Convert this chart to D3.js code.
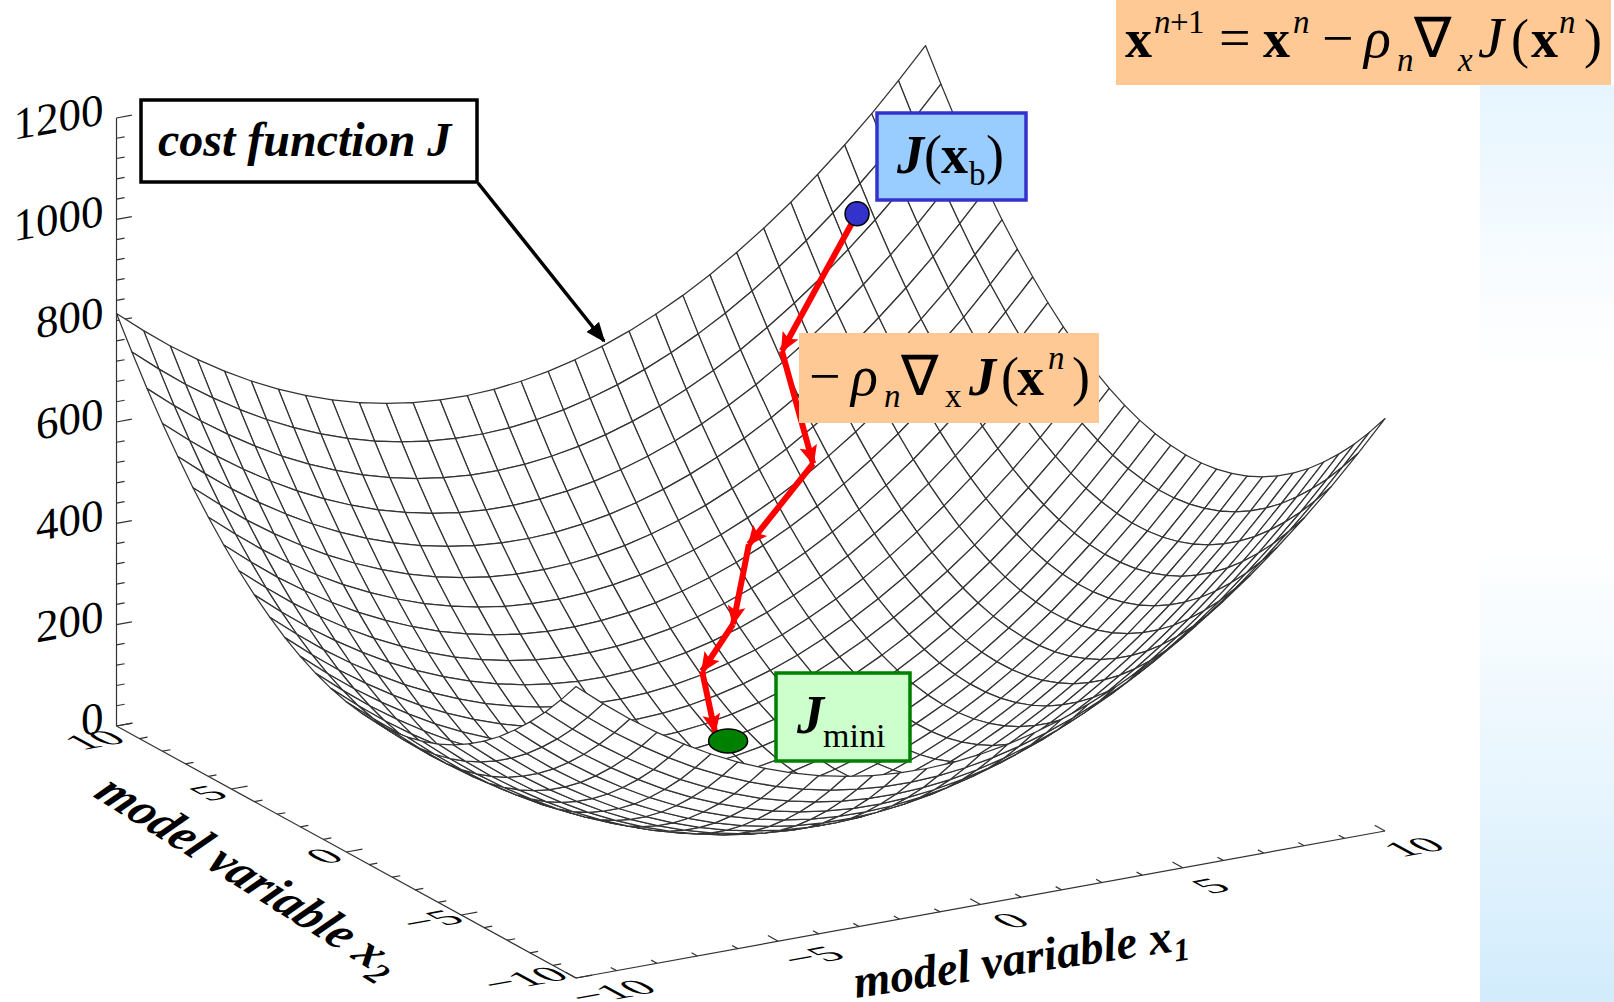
<!DOCTYPE html>
<html>
<head>
<meta charset="utf-8">
<script src="https://cdnjs.cloudflare.com/ajax/libs/d3/7.8.5/d3.min.js"></script>
<style>
  html, body { margin: 0; padding: 0; background: #fff; }
  svg { display: block; }
  text { font-family: "Liberation Serif", serif; fill: #000; }
</style>
</head>
<body>
<svg id="chart" width="1614" height="1002"></svg>
<script>
// model variable grid, 31 mesh lines each way
const x1Grid = [-10, -9.33, -8.67, -8, -7.33, -6.67, -6, -5.33, -4.67, -4, -3.33, -2.67, -2, -1.33, -0.67, 0,
  0.67, 1.33, 2, 2.67, 3.33, 4, 4.67, 5.33, 6, 6.67, 7.33, 8, 8.67, 9.33, 10];
const x2Grid = x1Grid.slice();

// share of the cost J coming from each variable, read along the edges of the surface
const costX1 = [287.6, 244.2, 204.4, 168.2, 135.4, 106.2, 80.6, 58.5, 39.9, 24.9, 13.4, 5.4, 1.0, 0.1, 2.8, 9.0,
  18.7, 32.0, 48.8, 69.1, 93.0, 120.4, 151.4, 185.8, 223.9, 265.4, 310.6, 359.2, 411.4, 467.1, 526.4];
const costX2 = costX1.slice();

const zTicks = [0, 40, 80, 120, 160, 200, 240, 280, 320, 360, 400, 440, 480, 520, 560, 600, 640, 680, 720, 760,
  800, 840, 880, 920, 960, 1000, 1040, 1080, 1120, 1160, 1200];
const zLabels = [0, 200, 400, 600, 800, 1000, 1200];
const xTicks = [-10, -9, -8, -7, -6, -5, -4, -3, -2, -1, 0, 1, 2, 3, 4, 5, 6, 7, 8, 9, 10];
const xLabels = [-10, -5, 0, 5, 10];

// descent steps on the surface, first one is J(xb), last one the tip at Jmini
const stepX1 = [7.74, 5.41, 5.0, 3.09, 1.92, 0.74, 0.06];
const stepX2 = [9.0, 8.17, 6.09, 5.52, 4.15, 3.42, 1.66];
const stepJ = [778.6, 562, 397.5, 280, 173.6, 116.3, 49.4];
const startPoint = { x1: 7.74, x2: 9.0, j: 778.6 };
const miniPoint = { x1: 0.15, x2: 1.25, j: 40.9 };

const svg = d3.select("#chart");
const defs = svg.append("defs");

// scales of the oblique view: each axis adds its own screen shift
const x1ScreenX = d3.scaleLinear().domain([-10, 10]).range([0, 809]);
const x1ScreenY = d3.scaleLinear().domain([-10, 10]).range([0, -147]);
const x2ScreenX = d3.scaleLinear().domain([-10, 10]).range([0, -459.5]);
const x2ScreenY = d3.scaleLinear().domain([-10, 10]).range([0, -252]);
const jScreenY = d3.scaleLinear().domain([0, 1200]).range([0, -608]);
const origin = { x: 576, y: 978 };

function project(x1, x2, j) {
  return [
    origin.x + x1ScreenX(x1) + x2ScreenX(x2),
    origin.y + x1ScreenY(x1) + x2ScreenY(x2) + jScreenY(j)
  ];
}

const grad = defs.append("linearGradient").attr("id", "panelFill")
  .attr("x1", 0).attr("y1", 0).attr("x2", 0).attr("y2", 1);
grad.append("stop").attr("offset", "0%").attr("stop-color", "#e6f5fe");
grad.append("stop").attr("offset", "24%").attr("stop-color", "#fbfdff");
grad.append("stop").attr("offset", "32%").attr("stop-color", "#ffffff");
grad.append("stop").attr("offset", "50%").attr("stop-color", "#ffffff");
grad.append("stop").attr("offset", "100%").attr("stop-color", "#d2ecfc");

svg.append("rect").attr("x", 1480).attr("y", 85).attr("width", 134).attr("height", 917)
  .attr("fill", "url(#panelFill)");

function drawAxes() {
  const axes = svg.append("g").attr("stroke", "#333").attr("fill", "none").attr("stroke-width", 1.2);
  const line = d3.line();

  axes.append("path").attr("d", line([project(-10, 10, 0), project(-10, 10, 1200)]));
  axes.append("path").attr("d", line([project(-10, 10, 0), project(-10, -10, 0)]));
  axes.append("path").attr("d", line([project(-10, -10, 0), project(10, -10, 0)]));

  zTicks.forEach((t) => {
    const len = t % 200 === 0 ? 0.38 : 0.2;
    axes.append("path").attr("d", line([project(-10, 10, t), project(-10 + len, 10, t)]));
  });
  xTicks.forEach((t) => {
    const len = t % 5 === 0 ? 0.4 : 0.2;
    axes.append("path").attr("d", line([project(-10, t, 0), project(-10 + len, t, 0)]));
    const lenUp = t % 5 === 0 ? 0.45 : 0.25;
    axes.append("path").attr("d", line([project(t, -10, 0), project(t, -10 + lenUp, 0)]));
  });
}

function drawSurface() {
  const surface = svg.append("g").attr("fill", "#fff").attr("stroke", "#333")
    .attr("stroke-width", 1.25).attr("stroke-linejoin", "round");
  const line = d3.line().curve(d3.curveLinearClosed);
  const vertex = (i, j) => project(x1Grid[i], x2Grid[j], costX1[i] + costX2[j]);

  // far corner first, so the front of the bowl hides what is behind it
  for (let i = x1Grid.length - 2; i >= 0; i--) {
    for (let j = x2Grid.length - 2; j >= 0; j--) {
      surface.append("path").attr("d", line([
        vertex(i, j), vertex(i + 1, j), vertex(i + 1, j + 1), vertex(i, j + 1)
      ]));
    }
  }
}

drawAxes();
drawSurface();

// tick labels lie flat on the base plane
const flat = "matrix(1.25,-0.23,0.88,0.48,0,0)";
const x2LabelSpots = { "-10": [-52, 1], "-5": [-30, 5], "0": [-22, 4], "5": [-23, 4], "10": [-22, 14] };
const x1LabelSpots = { "-10": [36, 14], "-5": [34, 15], "0": [30, 16], "5": [28, 18], "10": [29, 16] };
const tickText = (v) => String(v).replace("-", "\u2212");

function flatLabel(v, p, spot) {
  svg.append("text")
    .attr("transform", `translate(${p[0] + spot[0]},${p[1] + spot[1]}) ${flat}`)
    .attr("text-anchor", "middle").attr("y", 12.5).attr("font-size", 38)
    .text(tickText(v));
}
xLabels.forEach((v) => {
  flatLabel(v, project(-10, v, 0), x2LabelSpots[v]);
  flatLabel(v, project(v, -10, 0), x1LabelSpots[v]);
});
zLabels.forEach((v) => {
  const p = project(-10, 10, v);
  svg.append("text")
    .attr("transform", `translate(${p[0] - 13},${p[1] + 6}) skewY(-10)`)
    .attr("text-anchor", "end").attr("font-size", 45)
    .text(v);
});

function axisTitle(transform, size, name, sub) {
  const t = svg.append("text").attr("transform", transform)
    .attr("font-size", size).attr("font-weight", "bold").attr("font-style", "italic");
  t.append("tspan").text(name);
  t.append("tspan").attr("dy", 10).attr("font-size", 32).text(sub);
}
axisTitle("translate(92,796) rotate(32) skewX(-14)", 48, "model variable x", "2");
axisTitle("translate(856,998) rotate(-8.3)", 47, "model variable x", "1");

// red descent path
defs.append("marker").attr("id", "redHead").attr("markerUnits", "userSpaceOnUse")
  .attr("viewBox", "0 0 20 20").attr("refX", 18).attr("refY", 10)
  .attr("markerWidth", 20).attr("markerHeight", 20).attr("orient", "auto")
  .append("path").attr("d", "M0,1 L20,10 L0,19 L4,10 Z").attr("fill", "#ff0000");

const stepPoints = stepX1.map((d, i) => project(d, stepX2[i], stepJ[i]));
d3.pairs(stepPoints).forEach(([a, b]) => {
  svg.append("path").attr("d", d3.line()([a, b]))
    .attr("stroke", "#ff0000").attr("stroke-width", 6).attr("fill", "none")
    .attr("marker-end", "url(#redHead)");
});

const startXY = project(startPoint.x1, startPoint.x2, startPoint.j);
svg.append("circle").attr("cx", startXY[0]).attr("cy", startXY[1]).attr("r", 12)
  .attr("fill", "#3333cc").attr("stroke", "#000").attr("stroke-width", 1.5);
const miniXY = project(miniPoint.x1, miniPoint.x2, miniPoint.j);
svg.append("ellipse").attr("cx", miniXY[0]).attr("cy", miniXY[1]).attr("rx", 19.5).attr("ry", 12)
  .attr("fill", "#008000").attr("stroke", "#000").attr("stroke-width", 1.5);

// annotation boxes
function box(x, y, w, h, fill, stroke, sw) {
  svg.append("rect").attr("x", x).attr("y", y).attr("width", w).attr("height", h)
    .attr("fill", fill).attr("stroke", stroke || "none").attr("stroke-width", sw || 0);
}
box(1116, 0, 495, 85, "#fec994");
box(799, 333, 300, 90, "#fec994");
box(877, 113, 149, 87, "#99ccff", "#3333cc", 3.5);
box(776, 673, 134, 88, "#ccffcc", "#008000", 3.5);
box(141, 100, 336, 82, "#fff", "#000", 3.5);

defs.append("marker").attr("id", "blackHead").attr("markerUnits", "userSpaceOnUse")
  .attr("viewBox", "0 0 20 18").attr("refX", 18).attr("refY", 9)
  .attr("markerWidth", 20).attr("markerHeight", 18).attr("orient", "auto")
  .append("path").attr("d", "M0,1 L20,9 L0,17 Z").attr("fill", "#000");
svg.append("path").attr("d", d3.line()([[478, 183], [604, 341]]))
  .attr("stroke", "#000").attr("stroke-width", 3.5).attr("fill", "none")
  .attr("marker-end", "url(#blackHead)");

svg.append("text").attr("x", 158).attr("y", 156).attr("font-size", 48)
  .attr("font-weight", "bold").attr("font-style", "italic").text("cost function J");

// formula pieces: [text, x, baseline, size, bold, italic]
const formulaPieces = [
  ["x", 1125, 57, 54, true, false], ["n", 1154, 33, 33, false, true], ["+", 1170, 33, 33, false, false], ["1", 1188, 33, 33, false, false],
  ["=", 1219, 57, 56, false, false], ["x", 1263, 57, 54, true, false], ["n", 1293, 33, 33, false, true],
  ["\u2212", 1322, 57, 56, false, false], ["\u03c1", 1364, 57, 56, false, true], ["n", 1397, 71, 33, false, true],
  ["\u2207", 1414, 57, 56, false, false], ["x", 1458, 71, 33, false, true], ["J", 1478, 57, 58, false, true],
  ["(", 1511, 57, 54, false, false], ["x", 1531, 57, 54, true, false], ["n", 1559, 33, 33, false, true],
  [")", 1584, 57, 54, false, false],

  ["\u2212", 809, 395, 56, false, false], ["\u03c1", 851, 395, 56, false, true], ["n", 884, 407, 33, false, true],
  ["\u2207", 901, 395, 56, false, false], ["x", 945, 407, 33, false, false], ["J", 969, 395, 54, true, true],
  ["(", 1001, 395, 54, false, false], ["x", 1017, 395, 54, true, false], ["n", 1048, 369, 33, false, true],
  [")", 1072, 395, 54, false, false],

  ["J", 897, 173, 54, true, true], ["(", 924, 173, 54, false, false], ["x", 941, 173, 54, true, false],
  ["b", 969, 185, 33, false, false], [")", 986, 173, 54, false, false],

  ["J", 797, 733, 54, true, true], ["mini", 823, 747, 34, false, false]
];
formulaPieces.forEach(([s, x, y, size, bold, italic]) => {
  svg.append("text").attr("x", x).attr("y", y).attr("font-size", size)
    .attr("font-weight", bold ? "bold" : "normal")
    .attr("font-style", italic ? "italic" : "normal").text(s);
});
</script>
</body>
</html>
